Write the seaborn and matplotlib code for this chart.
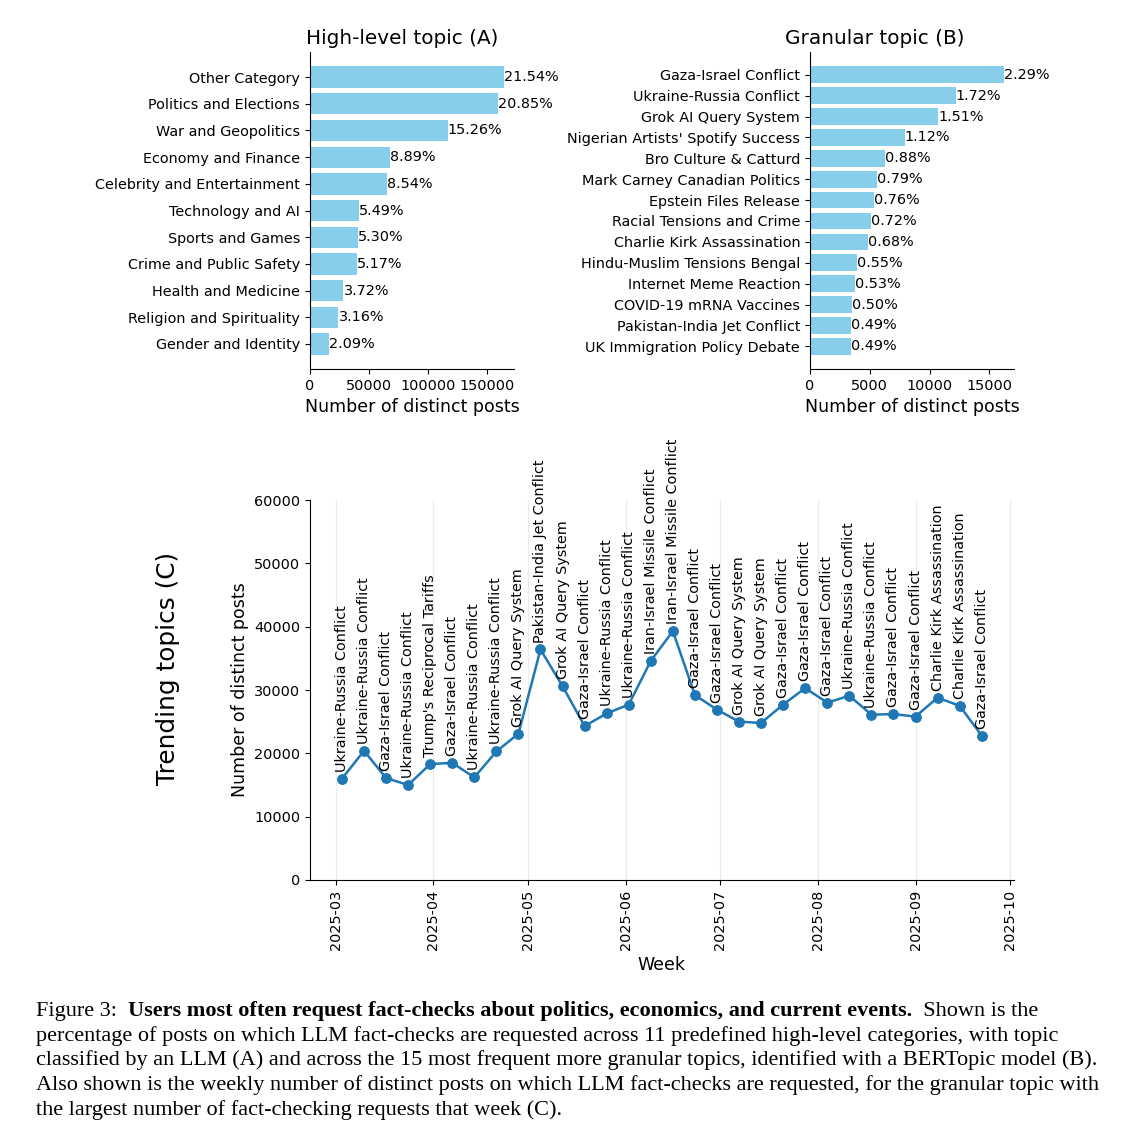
import matplotlib
matplotlib.use("Agg")
import matplotlib.pyplot as plt
import matplotlib.dates as mdates
import pandas as pd
import seaborn as sns

# (A) high-level topics
high_topics = ["Other Category", "Politics and Elections", "War and Geopolitics",
               "Economy and Finance", "Celebrity and Entertainment", "Technology and AI",
               "Sports and Games", "Crime and Public Safety", "Health and Medicine",
               "Religion and Spirituality", "Gender and Identity"]
high_counts = [164600, 159300, 116600, 67900, 65200, 41900, 40500, 39500, 28400, 24100, 16000]
high_pct = [21.54, 20.85, 15.26, 8.89, 8.54, 5.49, 5.30, 5.17, 3.72, 3.16, 2.09]

# (B) granular topics
gran_topics = ["Gaza-Israel Conflict", "Ukraine-Russia Conflict", "Grok AI Query System",
               "Nigerian Artists' Spotify Success", "Bro Culture & Catturd",
               "Mark Carney Canadian Politics", "Epstein Files Release",
               "Racial Tensions and Crime", "Charlie Kirk Assassination",
               "Hindu-Muslim Tensions Bengal", "Internet Meme Reaction",
               "COVID-19 mRNA Vaccines", "Pakistan-India Jet Conflict",
               "UK Immigration Policy Debate"]
gran_counts = [16240, 12200, 10710, 7940, 6240, 5600, 5390, 5100, 4820, 3900, 3760, 3550, 3470, 3470]
gran_pct = [2.29, 1.72, 1.51, 1.12, 0.88, 0.79, 0.76, 0.72, 0.68, 0.55, 0.53, 0.50, 0.49, 0.49]

# (C) weekly top topic
weeks = ["2025-03-03", "2025-03-10", "2025-03-17", "2025-03-24", "2025-03-31",
         "2025-04-07", "2025-04-14", "2025-04-21", "2025-04-28", "2025-05-05",
         "2025-05-12", "2025-05-19", "2025-05-26", "2025-06-02", "2025-06-09",
         "2025-06-16", "2025-06-23", "2025-06-30", "2025-07-07", "2025-07-14",
         "2025-07-21", "2025-07-28", "2025-08-04", "2025-08-11", "2025-08-18",
         "2025-08-25", "2025-09-01", "2025-09-08", "2025-09-15", "2025-09-22"]
week_counts = [16000, 20400, 16100, 15000, 18300, 18500, 16200, 20300, 23100, 36400,
               30600, 24300, 26300, 27700, 34600, 39300, 29200, 26900, 25000, 24800,
               27700, 30300, 28000, 29100, 26100, 26200, 25800, 28800, 27500, 22800]
week_topics = ["Ukraine-Russia Conflict", "Ukraine-Russia Conflict", "Gaza-Israel Conflict",
               "Ukraine-Russia Conflict", "Trump's Reciprocal Tariffs", "Gaza-Israel Conflict",
               "Ukraine-Russia Conflict", "Ukraine-Russia Conflict", "Grok AI Query System",
               "Pakistan-India Jet Conflict", "Grok AI Query System", "Gaza-Israel Conflict",
               "Ukraine-Russia Conflict", "Ukraine-Russia Conflict", "Iran-Israel Missile Conflict",
               "Iran-Israel Missile Conflict", "Gaza-Israel Conflict", "Gaza-Israel Conflict",
               "Grok AI Query System", "Grok AI Query System", "Gaza-Israel Conflict",
               "Gaza-Israel Conflict", "Gaza-Israel Conflict", "Ukraine-Russia Conflict",
               "Ukraine-Russia Conflict", "Gaza-Israel Conflict", "Gaza-Israel Conflict",
               "Charlie Kirk Assassination", "Charlie Kirk Assassination", "Gaza-Israel Conflict"]

caption_lines = [
    "percentage of posts on which LLM fact-checks are requested across 11 predefined high-level categories, with topic",
    "classified by an LLM (A) and across the 15 most frequent more granular topics, identified with a BERTopic model (B).",
    "Also shown is the weekly number of distinct posts on which LLM fact-checks are requested, for the granular topic with",
    "the largest number of fact-checking requests that week (C).",
]

plt.rcParams["font.family"] = "DejaVu Sans"
bar_color = "skyblue"
line_color = "#1f77b4"

fig = plt.figure(figsize=(11.4, 11.39), dpi=100)
ax_a = fig.add_axes([0.2719, 0.676, 0.1789, 0.2783])
ax_b = fig.add_axes([0.7105, 0.676, 0.1789, 0.2783])
ax_c = fig.add_axes([0.2719, 0.2274, 0.6173, 0.3336])


def topic_bars(ax, topics, counts, pct, title, title_x):
    sns.barplot(x=counts, y=topics, color=bar_color, saturation=1, errorbar=None,
                orient="h", ax=ax)
    ax.autoscale(enable=True, axis="y")
    ax.bar_label(ax.containers[0], labels=[f"{p:.2f}%" for p in pct], fontsize=10.4)
    ax.set_title(title, fontsize=14.4, x=title_x)
    ax.set_xlabel("Number of distinct posts", fontsize=12.5)
    ax.set_ylabel("")
    ax.tick_params(labelsize=10.4)
    sns.despine(ax=ax)


topic_bars(ax_a, high_topics, high_counts, high_pct, "High-level topic (A)", 0.45)
topic_bars(ax_b, gran_topics, gran_counts, gran_pct, "Granular topic (B)", 0.32)

# (C) weekly line
week_df = pd.DataFrame({"week": pd.to_datetime(weeks), "count": week_counts,
                        "topic": week_topics})
sns.lineplot(data=week_df, x="week", y="count", color=line_color, marker="o",
             markersize=7, linewidth=1.8, markeredgecolor=line_color, ax=ax_c)
for _, row in week_df.iterrows():
    ax_c.annotate(row["topic"], (row["week"], row["count"]), xytext=(0, 5),
                  textcoords="offset points", rotation=90, ha="center", va="bottom",
                  fontsize=10.4)
ax_c.set_ylim(0, 60000)
ax_c.xaxis.set_major_locator(mdates.MonthLocator())
ax_c.xaxis.set_major_formatter(mdates.DateFormatter("%Y-%m"))
ax_c.tick_params(axis="x", labelrotation=90)
ax_c.tick_params(labelsize=10.4)
ax_c.grid(axis="x", alpha=0.25)
ax_c.set_xlabel("Week", fontsize=12.5)
ax_c.set_ylabel("Number of distinct posts", fontsize=12.5)
sns.despine(ax=ax_c)
fig.text(168 / 1140, 1 - 668 / 1139, "Trending topics (C)", rotation=90,
         ha="center", va="center", fontsize=17.8)

# caption
cap_font = dict(family="Liberation Serif", fontsize=16)
y0 = 1 - 1016 / 1139
step = 24.7 / 1139
t1 = fig.text(36 / 1140, y0, "Figure 3:  ", va="baseline", **cap_font)
t2 = ax_c.annotate("Users most often request fact-checks about politics, economics, and current events.",
                   xy=(1, 0), xycoords=t1, va="bottom", ha="left", fontweight="bold",
                   annotation_clip=False, **cap_font)
ax_c.annotate("  Shown is the", xy=(1, 0), xycoords=t2, va="bottom", ha="left",
              annotation_clip=False, **cap_font)
for i, line in enumerate(caption_lines):
    fig.text(36 / 1140, y0 - (i + 1) * step, line, va="baseline", **cap_font)

fig.savefig("out.png", dpi=100)
